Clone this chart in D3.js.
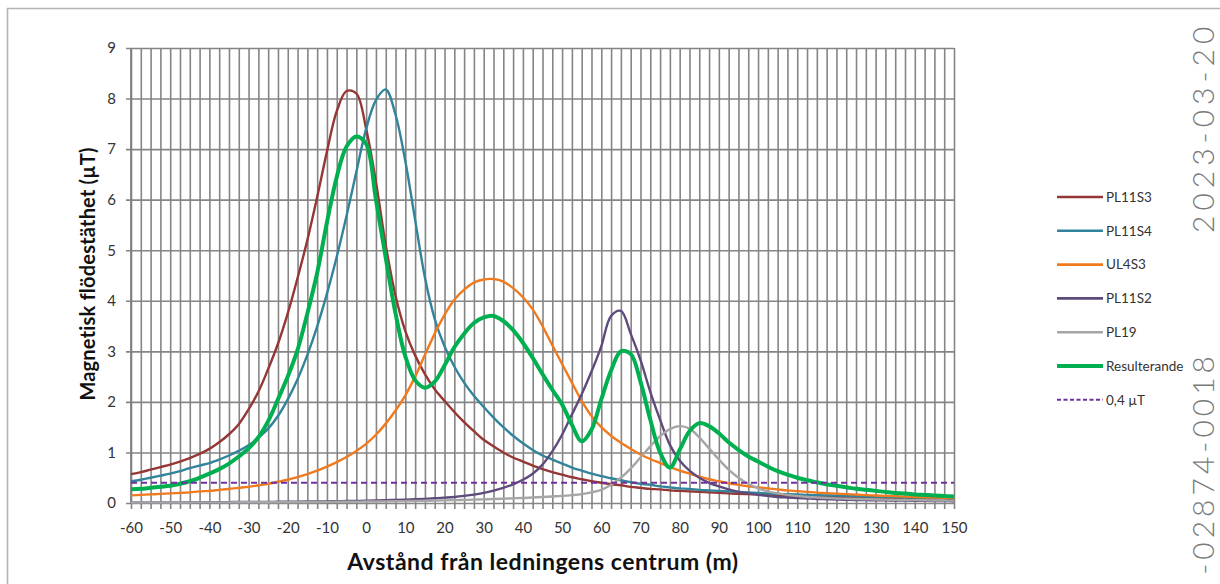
<!DOCTYPE html>
<html>
<head>
<meta charset="utf-8">
<script src="https://cdn.jsdelivr.net/npm/d3@7"></script>
<style>
    html, body { margin: 0; padding: 0; background: #fff; }
    field-chart { display: block; width: 1220px; height: 584px; }
    svg { display: block; font-family: Lato, "Open Sans", sans-serif; }
</style>
</head>
<body>
<field-chart></field-chart>
<script>
// distance from the line centre (m), one value every 2.5 m
const distance = [
    -60, -57.5, -55, -52.5, -50, -47.5, -45, -42.5, -40, -37.5,
    -35, -32.5, -30, -27.5, -25, -22.5, -20, -17.5, -15, -12.5,
    -10, -7.5, -5, -2.5, 0, 2.5, 5, 7.5, 10, 12.5,
    15, 17.5, 20, 22.5, 25, 27.5, 30, 32.5, 35, 37.5,
    40, 42.5, 45, 47.5, 50, 52.5, 55, 57.5, 60, 62.5,
    65, 67.5, 70, 72.5, 75, 77.5, 80, 82.5, 85, 87.5,
    90, 92.5, 95, 97.5, 100, 102.5, 105, 107.5, 110, 112.5,
    115, 117.5, 120, 122.5, 125, 127.5, 130, 132.5, 135, 137.5,
    140, 142.5, 145, 147.5, 150
];
const xTickLabels = [-60, -50, -40, -30, -20, -10, 0, 10, 20, 30, 40, 50, 60, 70, 80, 90, 100, 110, 120, 130, 140, 150];
const yTickLabels = [0, 1, 2, 3, 4, 5, 6, 7, 8, 9];

const pl11s3 = [
    0.57, 0.61, 0.66, 0.71, 0.76, 0.82, 0.89, 0.97, 1.07, 1.2,
    1.36, 1.56, 1.85, 2.2, 2.65, 3.15, 3.75, 4.45, 5.2, 6.05,
    6.95, 7.75, 8.15, 8.1, 7.4, 6.35, 5.1, 4.1, 3.4, 2.92,
    2.55, 2.25, 2.02, 1.8, 1.6, 1.42, 1.25, 1.12, 1.0, 0.9,
    0.82, 0.74, 0.67, 0.61, 0.56, 0.51, 0.47, 0.43, 0.4, 0.37,
    0.35, 0.32, 0.3, 0.28, 0.27, 0.25, 0.24, 0.23, 0.22, 0.21,
    0.2, 0.19, 0.18, 0.175, 0.17, 0.16, 0.155, 0.15, 0.145, 0.14,
    0.135, 0.13, 0.125, 0.12, 0.115, 0.11, 0.107, 0.104, 0.1, 0.097,
    0.094, 0.091, 0.088, 0.086, 0.083
];
const pl11s4 = [
    0.43, 0.46, 0.5, 0.54, 0.58, 0.63, 0.69, 0.74, 0.79, 0.86,
    0.94, 1.03, 1.14, 1.29, 1.47, 1.72, 2.05, 2.45, 2.93, 3.49,
    4.14, 4.87, 5.68, 6.55, 7.4, 7.97, 8.18, 7.68, 6.76, 5.6,
    4.46, 3.64, 3.1, 2.7, 2.38, 2.12, 1.9, 1.69, 1.5, 1.33,
    1.18, 1.05, 0.94, 0.86, 0.78, 0.7, 0.64, 0.58, 0.53, 0.49,
    0.45, 0.41, 0.38, 0.36, 0.33, 0.31, 0.29, 0.28, 0.26, 0.25,
    0.24, 0.23, 0.22, 0.21, 0.2, 0.19, 0.18, 0.175, 0.17, 0.16,
    0.155, 0.15, 0.145, 0.14, 0.135, 0.13, 0.125, 0.12, 0.115, 0.11,
    0.107, 0.104, 0.1, 0.097, 0.094
];
const ul4s3 = [
    0.15, 0.16, 0.17, 0.18, 0.19, 0.2, 0.21, 0.23, 0.24, 0.26,
    0.28, 0.3, 0.32, 0.35, 0.38, 0.42, 0.46, 0.51, 0.57, 0.64,
    0.72, 0.81, 0.91, 1.03, 1.17, 1.35, 1.57, 1.83, 2.13, 2.5,
    2.93, 3.35, 3.72, 4.02, 4.22, 4.36, 4.42, 4.43, 4.38, 4.25,
    4.07, 3.83, 3.5, 3.12, 2.75, 2.38, 2.02, 1.72, 1.5, 1.33,
    1.19, 1.07, 0.96, 0.87, 0.79, 0.71, 0.64, 0.58, 0.52, 0.47,
    0.43, 0.39, 0.36, 0.33, 0.31, 0.29, 0.27, 0.25, 0.235, 0.22,
    0.205, 0.195, 0.185, 0.175, 0.165, 0.155, 0.148, 0.14, 0.133, 0.127,
    0.12, 0.115, 0.11, 0.105, 0.1
];
const pl11s2 = [
    0.01, 0.01, 0.01, 0.012, 0.012, 0.013, 0.014, 0.015, 0.016, 0.017,
    0.018, 0.019, 0.02, 0.021, 0.022, 0.024, 0.025, 0.027, 0.029, 0.031,
    0.033, 0.036, 0.039, 0.042, 0.045, 0.049, 0.054, 0.06, 0.066, 0.073,
    0.082, 0.093, 0.106, 0.12, 0.14, 0.165, 0.2, 0.245, 0.3, 0.37,
    0.46, 0.58, 0.76, 1.02, 1.35, 1.75, 2.15, 2.6, 3.1, 3.7,
    3.8, 3.35, 2.83, 2.2, 1.65, 1.15, 0.84, 0.64, 0.5, 0.4,
    0.33, 0.27, 0.22, 0.19, 0.16, 0.14, 0.12, 0.11, 0.1, 0.09,
    0.08, 0.075, 0.07, 0.065, 0.06, 0.057, 0.054, 0.051, 0.048, 0.046,
    0.044, 0.042, 0.04, 0.038, 0.036
];
const pl19 = [
    0.01, 0.01, 0.01, 0.01, 0.01, 0.011, 0.011, 0.012, 0.012, 0.013,
    0.013, 0.014, 0.015, 0.015, 0.016, 0.017, 0.018, 0.019, 0.02, 0.021,
    0.022, 0.024, 0.025, 0.027, 0.029, 0.031, 0.033, 0.035, 0.038, 0.041,
    0.044, 0.048, 0.052, 0.056, 0.061, 0.066, 0.072, 0.078, 0.085, 0.093,
    0.1, 0.11, 0.12, 0.13, 0.14, 0.155, 0.175, 0.21, 0.26, 0.36,
    0.5, 0.68, 0.9, 1.12, 1.32, 1.46, 1.52, 1.47, 1.3, 1.08,
    0.86, 0.66, 0.5, 0.38, 0.29, 0.23, 0.19, 0.16, 0.14, 0.12,
    0.11, 0.1, 0.09, 0.085, 0.08, 0.075, 0.07, 0.066, 0.062, 0.059,
    0.056, 0.053, 0.05, 0.048, 0.046
];
const resulterande = [
    0.27, 0.28, 0.3, 0.32, 0.34, 0.38, 0.43, 0.5, 0.58, 0.67,
    0.78, 0.92, 1.08, 1.3, 1.62, 2.05, 2.5, 3.03, 3.75, 4.55,
    5.55, 6.45, 7.05, 7.25, 7.1, 6.0, 4.85, 3.75, 2.9, 2.43,
    2.28, 2.4, 2.72, 3.08, 3.35, 3.56, 3.67, 3.7, 3.6, 3.42,
    3.17, 2.87, 2.55, 2.24, 1.95, 1.55, 1.22, 1.45, 2.05, 2.62,
    3.0, 2.95, 2.4, 1.65, 1.0, 0.7, 1.05, 1.42, 1.58, 1.52,
    1.38, 1.2, 1.05, 0.92, 0.82, 0.72, 0.63, 0.56, 0.5, 0.45,
    0.41, 0.37, 0.34, 0.31, 0.28, 0.26, 0.24, 0.22, 0.2, 0.19,
    0.17, 0.16, 0.15, 0.14, 0.13
];
const limitValue = 0.4;

const seriesNames = ['PL11S3', 'PL11S4', 'UL4S3', 'PL11S2', 'PL19', 'Resulterande'];
const limitName = '0,4 µT';
const stampTop = '2023-03-20';
const stampBottom = '-02874-0018';

class FieldChart extends HTMLElement {
    constructor() {
        super();
        this.elements = {};
    }

    connectedCallback() {
        this.render();
    }

    _setConstants() {
        this.margin = { left: 131, right: 954, top: 48, bottom: 503 };
        this.colors = ['#953735', '#31849b', '#f07a1e', '#5f4a7c', '#a6a6a6', '#00b050'];
        this.widths = [2.4, 2.4, 2.4, 2.4, 2.4, 4];
        this.limitColor = '#7030a0';
        this.gridColor = '#858585';
        this.x = d3.scaleLinear().domain([-60, 150]).range([this.margin.left, this.margin.right]);
        this.y = d3.scaleLinear().domain([0, 9]).range([this.margin.bottom, this.margin.top]);
        this.series = [pl11s3, pl11s4, ul4s3, pl11s2, pl19, resulterande].map((values, i) => ({
            name: seriesNames[i],
            points: values.map((v, j) => [distance[j], v])
        }));
    }

    _renderSvg() {
        this.elements.svg = d3.select(this).selectAll('svg').data([1]).join('svg')
            .attr('width', 1220).attr('height', 584);
        // outer chart frame, cut off by the page on the right and bottom
        this.elements.svg.append('path')
            .attr('d', 'M7.5,590 V8.5 H1230')
            .attr('fill', 'none').attr('stroke', '#b4b4b4').attr('stroke-width', 1.6);
    }

    _renderGrid() {
        const svg = this.elements.svg;
        const h = this.margin.bottom - this.margin.top;
        const w = this.margin.right - this.margin.left;

        const xGrid = svg.append('g')
            .attr('transform', `translate(0,${this.margin.bottom})`)
            .call(d3.axisBottom(this.x).tickValues(distance).tickSize(-h).tickSizeOuter(0).tickFormat(''));
        xGrid.select('.domain').remove();
        xGrid.selectAll('line').attr('y1', 6).attr('stroke', this.gridColor).attr('stroke-width', 1.6);

        const yGrid = svg.append('g')
            .attr('transform', `translate(${this.margin.left},0)`)
            .call(d3.axisLeft(this.y).tickValues(yTickLabels).tickSize(-w).tickSizeOuter(0).tickFormat(''));
        yGrid.select('.domain').remove();
        yGrid.selectAll('line').attr('x1', -5).attr('stroke', this.gridColor).attr('stroke-width', 1.6);

        svg.append('line')
            .attr('x1', this.margin.left).attr('x2', this.margin.left)
            .attr('y1', this.margin.top).attr('y2', this.margin.bottom)
            .attr('stroke', '#808080').attr('stroke-width', 1.8);
    }

    _renderAxes() {
        const svg = this.elements.svg;
        const xAxis = svg.append('g')
            .attr('transform', `translate(0,${this.margin.bottom})`)
            .call(d3.axisBottom(this.x).tickValues(xTickLabels).tickSize(0).tickPadding(30).tickFormat(d => String(d)));
        xAxis.select('.domain').remove();
        xAxis.selectAll('text').attr('font-size', 15).attr('fill', '#333')
            .attr('font-family', 'Lato, sans-serif').attr('dy', 0);

        const yAxis = svg.append('g')
            .attr('transform', `translate(${this.margin.left},0)`)
            .call(d3.axisLeft(this.y).tickValues(yTickLabels).tickSize(0).tickPadding(15).tickFormat(d => String(d)));
        yAxis.select('.domain').remove();
        yAxis.selectAll('text').attr('font-size', 15).attr('fill', '#333')
            .attr('font-family', 'Lato, sans-serif');

        svg.append('text')
            .attr('x', 543).attr('y', 570)
            .attr('text-anchor', 'middle')
            .attr('font-size', 23).attr('font-weight', 'bold').attr('fill', '#111')
            .attr('letter-spacing', 0.5)
            .text('Avstånd från ledningens centrum (m)');

        svg.append('text')
            .attr('transform', 'translate(95,274) rotate(-90)')
            .attr('text-anchor', 'middle')
            .attr('font-size', 20).attr('font-weight', 'bold').attr('fill', '#111')
            .attr('letter-spacing', 0.2)
            .text('Magnetisk flödestäthet (µT)');
    }

    _renderLines() {
        const line = d3.line()
            .x(d => this.x(d[0]))
            .y(d => this.y(d[1]))
            .curve(d3.curveCatmullRom.alpha(0.5));
        this.elements.lines = this.elements.svg.append('g').selectAll('path').data(this.series).join('path')
            .attr('d', s => line(s.points))
            .attr('fill', 'none')
            .attr('stroke', (_, i) => this.colors[i])
            .attr('stroke-width', (_, i) => this.widths[i])
            .attr('stroke-linejoin', 'round');

        this.elements.svg.append('line')
            .attr('x1', this.x(distance[0])).attr('x2', this.x(distance[distance.length - 1]))
            .attr('y1', this.y(limitValue)).attr('y2', this.y(limitValue))
            .attr('stroke', this.limitColor).attr('stroke-width', 1.9)
            .attr('stroke-dasharray', '6,4');
    }

    _renderLegend() {
        const items = seriesNames.map((name, i) => ({ name, color: this.colors[i], width: this.widths[i] === 4 ? 3.8 : 2.6, dash: null }))
            .concat([{ name: limitName, color: this.limitColor, width: 1.9, dash: '4,2.5' }]);
        const legend = this.elements.svg.append('g').attr('transform', 'translate(1057,197)');
        const rows = legend.selectAll('g').data(items).join('g')
            .attr('transform', (_, i) => `translate(0,${i * 33.8})`);
        rows.append('line')
            .attr('x1', 0).attr('x2', 46)
            .attr('stroke', d => d.color).attr('stroke-width', d => d.width)
            .attr('stroke-dasharray', d => d.dash);
        rows.append('text')
            .attr('x', 49).attr('dy', '0.36em')
            .attr('font-size', 13.5).attr('fill', '#333')
            .text(d => d.name);
    }

    _renderStamp() {
        const stamp = this.elements.svg.append('g')
            .attr('font-family', 'Lato, sans-serif')
            .attr('font-weight', 300)
            .attr('font-size', 30)
            .attr('fill', '#7a7a7a');
        stamp.append('text')
            .attr('transform', 'translate(1214,233) rotate(-90)')
            .attr('letter-spacing', 5)
            .text(stampTop);
        stamp.append('text')
            .attr('transform', 'translate(1214,352) rotate(-90)')
            .attr('text-anchor', 'end')
            .attr('letter-spacing', 4)
            .text(stampBottom);
    }

    render() {
        this._setConstants();
        this._renderSvg();
        this._renderGrid();
        this._renderAxes();
        this._renderLines();
        this._renderLegend();
        this._renderStamp();
    }
}

customElements.define('field-chart', FieldChart);
</script>
</body>
</html>
